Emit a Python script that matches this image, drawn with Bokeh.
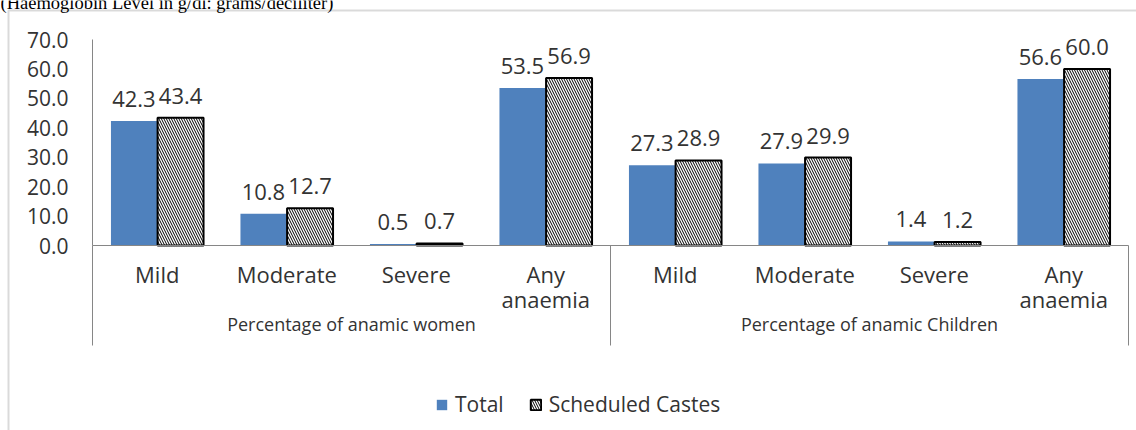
from bokeh.plotting import figure
from bokeh.models import (ColumnDataSource, Legend, LegendItem, Label, LinearAxis,
                          BoxAnnotation, FixedTicker, Range1d, NumeralTickFormatter)
from bokeh.transform import dodge
from bokeh.embed import file_html
from bokeh.resources import INLINE
from bokeh.core.properties import value

title_text = "(Haemoglobin Level in g/dl: grams/deciliter)"
groups = ["Percentage of anamic women", "Percentage of anamic Children"]
levels = ["Mild", "Moderate", "Severe", "Any\nanaemia"]
total = [42.3, 10.8, 0.5, 53.5, 27.3, 27.9, 1.4, 56.6]
scheduled = [43.4, 12.7, 0.7, 56.9, 28.9, 29.9, 1.2, 60.0]
y_ticks = [0, 10, 20, 30, 40, 50, 60, 70]
series_names = ["Total", "Scheduled Castes"]

FONT = "Open Sans"
TXT = "#333333"
GREY = "#868686"
BLUE = "#4f81bd"
W, H = 1136, 430

# ---- layout (pixels) ----
PLOT_L, PLOT_R = 92, 1128          # category area
Y0_PX, YTOP_PX = 245, 39           # value 0 and value 70
YMAX = 70
n_cat = len(groups) * len(levels)
ux = (PLOT_R - PLOT_L) / n_cat      # px per category
uy = (Y0_PX - YTOP_PX) / YMAX       # px per value unit


def xd(px):
    return (px - PLOT_L) / ux


def yd(py):
    return (Y0_PX - py) / uy


cat_labels = [l for g in groups for l in levels]
centers = [i + 0.5 for i in range(n_cat)]
group_centers = [len(levels) * (k + 0.5) for k in range(len(groups))]
group_edges = [len(levels) * k for k in range(len(groups) + 1)]

src = ColumnDataSource(dict(
    xc=centers,
    total=total,
    sc=scheduled,
    total_lbl=[f"{v:.1f}" for v in total],
    sc_lbl=[f"{v:.1f}" for v in scheduled],
))

p = figure(width=W, height=H, output_backend="svg", toolbar_location=None,
           x_range=Range1d(xd(0), xd(W)), y_range=Range1d(yd(H), yd(0)),
           min_border=0)
p.outline_line_color = None
p.xgrid.grid_line_color = None
p.ygrid.grid_line_color = None
p.background_fill_color = "white"
p.border_fill_color = "white"

OFF = 0.18
BW = 0.355
r_total = p.vbar(x=dodge("xc", -OFF), top="total", width=BW, source=src,
                 fill_color=BLUE, line_color=None)
r_sc = p.vbar(x=dodge("xc", OFF), top="sc", width=BW, source=src,
              fill_color="white", line_color="black", line_width=2,
              hatch_pattern="left_diagonal_line", hatch_color="black",
              hatch_scale=5, hatch_weight=1)

p.text(x=dodge("xc", -OFF), y="total", text="total_lbl", source=src,
       text_align="center", text_baseline="alphabetic", y_offset=-22,
       text_font=value(FONT), text_font_size="22px", text_color=TXT)
p.text(x=dodge("xc", OFF), y="sc", text="sc_lbl", source=src,
       text_align="center", text_baseline="alphabetic", y_offset=-22,
       text_font=value(FONT), text_font_size="22px", text_color=TXT)

# separators of the category axis
p.segment(x0=group_edges, x1=group_edges, y0=[0] * len(group_edges),
          y1=[yd(Y0_PX + 100)] * len(group_edges), line_color=GREY, line_width=1)

# y axis
ya = p.yaxis[0]
ya.fixed_location = 0
ya.bounds = (0, YMAX)
ya.ticker = FixedTicker(ticks=y_ticks)
ya.formatter = NumeralTickFormatter(format="0.0")
ya.major_tick_line_color = None
ya.minor_tick_line_color = None
ya.major_tick_out = 0
ya.major_tick_in = 0
ya.axis_line_color = GREY
ya.major_label_standoff = 24
ya.major_label_text_font = FONT
ya.major_label_text_font_size = "21px"
ya.major_label_text_color = TXT

# x axis: categories
xa = p.xaxis[0]
xa.fixed_location = 0
xa.bounds = (0, n_cat)
xa.ticker = FixedTicker(ticks=centers)
xa.major_label_overrides = {c: t for c, t in zip(centers, cat_labels)}
xa.major_tick_line_color = None
xa.minor_tick_line_color = None
xa.major_tick_out = 0
xa.major_tick_in = 0
xa.axis_line_color = GREY
xa.major_label_standoff = 13
xa.major_label_text_font = FONT
xa.major_label_text_font_size = "22px"
xa.major_label_text_line_height = 0.85
xa.major_label_text_color = TXT

# x axis: groups
ga = LinearAxis(fixed_location=0, ticker=FixedTicker(ticks=group_centers),
                major_label_overrides={c: g for c, g in zip(group_centers, groups)},
                axis_line_color=None, major_tick_line_color=None,
                minor_tick_line_color=None, major_tick_out=0, major_tick_in=0,
                major_label_standoff=66, major_label_text_font=FONT,
                major_label_text_font_size="18px", major_label_text_color=TXT)
p.add_layout(ga, "below")

legend = Legend(items=[LegendItem(label=series_names[0], renderers=[r_total]),
                       LegendItem(label=series_names[1], renderers=[r_sc])],
                orientation="horizontal", location=(435, 12),
                glyph_width=13, glyph_height=13, label_standoff=7, spacing=25,
                label_text_font=FONT, label_text_font_size="21px",
                label_text_color=TXT, border_line_color=None,
                background_fill_alpha=0, padding=2, margin=0)
p.add_layout(legend, "center")

# picture frame (left and top edges)
p.add_layout(BoxAnnotation(left=xd(8), right=xd(W + 50), top=yd(10), bottom=yd(H + 50),
                           fill_alpha=0, line_color=GREY, line_width=2))

p.add_layout(Label(x=0, y=H - 2, x_units="screen", y_units="screen", text=title_text,
                   text_font="Liberation Serif", text_font_size="18.5px",
                   text_color="black", text_baseline="alphabetic"))

open("out.html", "w").write(file_html(p, INLINE))
